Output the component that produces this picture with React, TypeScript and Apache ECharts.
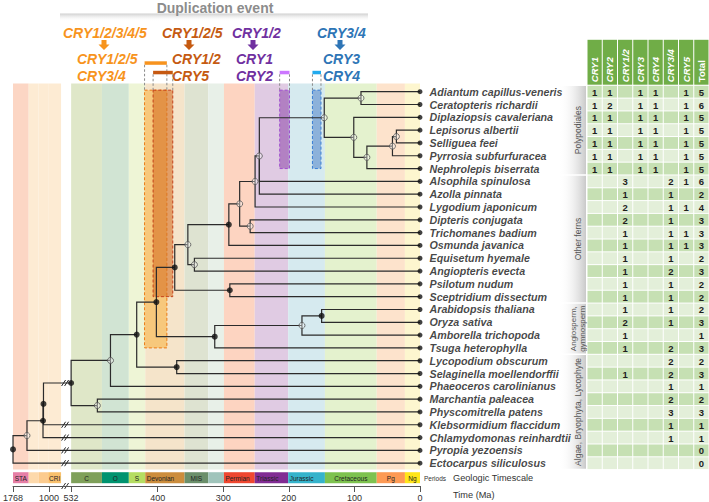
import React, { useEffect, useRef } from 'react';
import * as echarts from 'echarts';

const FONT = '"Liberation Sans", Arial, Helvetica, sans-serif';

// ---------------- data ----------------
const species = [
  'Adiantum capillus-veneris', 'Ceratopteris richardii', 'Diplaziopsis cavaleriana', 'Lepisorus albertii',
  'Selliguea feei', 'Pyrrosia subfurfuracea', 'Nephrolepis biserrata', 'Alsophila spinulosa', 'Azolla pinnata',
  'Lygodium japonicum', 'Dipteris conjugata', 'Trichomanes badium', 'Osmunda javanica', 'Equisetum hyemale',
  'Angiopteris evecta', 'Psilotum nudum', 'Sceptridium dissectum', 'Arabidopsis thaliana', 'Oryza sativa',
  'Amborella trichopoda', 'Tsuga heterophylla', 'Lycopodium obscurum', 'Selaginella moellendorffii',
  'Phaeoceros carolinianus', 'Marchantia paleacea', 'Physcomitrella patens', 'Klebsormidium flaccidum',
  'Chlamydomonas reinhardtii', 'Pyropia yezoensis', 'Ectocarpus siliculosus',
];

// internal nodes: id, age (Ma), children (tip row index or node id), supported (filled)
const treeNodes: [string, number, (number | string)[], boolean][] = [
  ['a', 90, [0, 1], false],
  ['f', 36, [3, 4], false],
  ['e', 42, ['f', 5], false],
  ['d', 81, ['e', 6], false],
  ['c', 101, [2, 'd'], false],
  ['b', 146, ['a', 'c'], false],
  ['g', 245, ['b', 7, 8], false],
  ['h', 251.5, ['g', 9], false],
  ['j', 259, [10, 11], false],
  ['i', 275, ['h', 'j'], false],
  ['k', 291.5, ['i', 12], true],
  ['m', 344, [13, 14], false],
  ['l', 354, ['k', 'm'], false],
  ['o', 290, [15, 16], true],
  ['n', 374, ['l', 'o'], true],
  ['s', 150, [17, 18], true],
  ['r', 180, ['s', 19], false],
  ['q', 313, ['r', 20], true],
  ['p', 402, ['n', 'q'], true],
  ['u', 371, [21, 22], true],
  ['t', 432, ['p', 'u'], true],
  ['v', 472, ['t', 23], false],
  ['x', 492, [24, 25], false],
  ['w', 532, ['v', 'x'], true],
  ['y1', 1120, ['w', 26], true],
  ['y2', 1130, ['y1', 27], true],
  ['z', 1471, ['y2', 28], false],
  ['root', 1768, ['z', 29], true],
];

const timeTicksMa = [1768, 1000, 532, 400, 300, 200, 100, 0];
const axisBreakMa = 532;
const breakMarkMa = 650;

const periodNames = ['STA', '', '', 'CRI', 'C', 'O', 'S', 'Devonian', 'MIS', '', 'Permian', 'Triassic', 'Jurassic', 'Cretaceous', 'Pg', 'Ng'];
const periodStartMa = [1768, 1435, 1225, 1020, 532, 485, 444, 419, 359, 323, 299, 252, 201, 145, 66, 23];
const periodEndMa = [1435, 1225, 1020, 746, 485, 444, 419, 359, 323, 299, 252, 201, 145, 66, 23, 0];
const periodBarColors = ['#e67fa6', '#fdd9ab', '#fccb8e', '#f9c06c', '#7fa05a', '#00936f', '#b5dd62', '#cc8d3d', '#6b8f6b', '#a0c4bb', '#ef4730', '#812c93', '#35b3cb', '#7dc24f', '#fd9a55', '#ffe61a'];
const periodBandColors = ['#fcd6c4', '#fdebd3', '#fdebd3', '#fdebd3', '#dfe7c8', '#d1e4d3', '#eef5d6', '#f5e4ca', '#dee3d1', '#e8f0e8', '#fdd4c1', '#e0cbe3', '#d6eaef', '#e4f2ce', '#fde3cc', '#fdf6cf'];
const leftAlignedPeriods = ['Devonian', 'Permian', 'Triassic', 'Jurassic'];

const dupSource = ['CRY1/2/3/4/5', 'CRY1/2/5', 'CRY1/2', 'CRY3/4'];
const dupProducts = [['CRY1/2/5', 'CRY3/4'], ['CRY1/2', 'CRY5'], ['CRY1', 'CRY2'], ['CRY3', 'CRY4']];
const dupOlderMa = [420, 407, 214, 164];
const dupYoungerMa = [386, 377, 199, 151];
const dupLastRow = [20, 16, 6, 6];

const cryColumns = ['CRY1', 'CRY2', 'CRY1/2', 'CRY3', 'CRY4', 'CRY3/4', 'CRY5', 'Total'];
const N = null;
const cry1Counts = [1, 1, 1, 1, 1, 1, 1, N, N, N, N, N, N, N, N, N, N, N, N, N, N, N, N, N, N, N, N, N, N, N];
const cry2Counts = [1, 2, 1, 1, 1, 1, 1, N, N, N, N, N, N, N, N, N, N, N, N, N, N, N, N, N, N, N, N, N, N, N];
const cry12Counts = [N, N, N, N, N, N, N, 3, 1, 2, 2, 1, 1, 1, 1, 1, 1, 1, 2, 1, 1, N, 1, N, N, N, N, N, N, N];
const cry3Counts = [1, 1, 1, 1, 1, 1, 1, N, N, N, N, N, N, N, N, N, N, N, N, N, N, N, N, N, N, N, N, N, N, N];
const cry4Counts = [1, 1, 1, 1, 1, 1, 1, N, N, N, N, N, N, N, N, N, N, N, N, N, N, N, N, N, N, N, N, N, N, N];
const cry34Counts = [N, N, N, N, N, N, N, 2, 1, 1, 1, 1, 1, 1, 2, 1, 1, 1, 1, N, 2, 2, 2, 1, 2, 3, 1, 1, N, N];
const cry5Counts = [1, 1, 1, 1, 1, 1, 1, 1, N, 1, N, 1, 1, N, N, N, N, N, N, N, N, N, N, N, N, N, N, N, N, N];
const totalCounts = [5, 6, 5, 5, 5, 5, 5, 6, 2, 4, 3, 3, 3, 2, 3, 2, 2, 2, 3, 1, 3, 2, 3, 1, 2, 3, 1, 1, 0, 0];

const groupNames = ['Polypodiales', 'Other ferns', 'Angiosperm,\ngymnosperm', 'Algae, Bryophyta, Lycophyte'];
const groupFirstRow = [0, 7, 17, 21];
const groupLastRow = [6, 16, 20, 29];

// ---------------- helpers ----------------
const K = 0.0717;
const toAxis = (t: number) => (t <= axisBreakMa ? t : axisBreakMa + (t - axisBreakMa) * K);
const tickU = timeTicksMa.map(toAxis);

const nodeMap: Record<string, { age: number; ch: (number | string)[]; sup: boolean }> = {};
treeNodes.forEach(([id, age, ch, sup]) => (nodeMap[id] = { age, ch, sup }));
const yCache: Record<string, number> = {};
function yOf(ref: number | string): number {
  if (typeof ref === 'number') return ref;
  if (yCache[ref] != null) return yCache[ref];
  const ys = nodeMap[ref].ch.map(yOf);
  const y = (Math.min(...ys) + Math.max(...ys)) / 2;
  yCache[ref] = y;
  return y;
}
const ageOf = (ref: number | string) => (typeof ref === 'number' ? 0 : nodeMap[ref].age);

const edgeData: number[][] = [];
treeNodes.forEach(([id, age, ch]) => {
  ch.forEach((c) => {
    const ca = ageOf(c);
    const crosses = age > breakMarkMa && ca < breakMarkMa ? 1 : 0;
    edgeData.push([toAxis(age), yOf(id), toAxis(ca), yOf(c), crosses]);
  });
});

const tableCols = [cry1Counts, cry2Counts, cry12Counts, cry3Counts, cry4Counts, cry34Counts, cry5Counts, totalCounts];

function buildOption(): any {
  const colorsDup = ['#f7941d', '#c55a11', '#7030a0', '#2e75b6'];
  const barColorsDup = ['#f7931e', '#c65911', '#cc77ff', '#22aaee'];
  const boxFill = ['rgba(248,176,60,0.55)', 'rgba(214,112,36,0.6)', 'rgba(140,70,170,0.55)', 'rgba(80,130,200,0.55)'];
  const boxStroke = ['#ec7a14', '#c4401a', '#a050d0', '#3a7fd5'];
  const sourceX = [63, 162, 232, 317];
  const arrowX = [104, 189, 253, 340];
  const productX = [77, 172, 236, 323];

  const graphics: any[] = [
    {
      type: 'rect', shape: { x: 60, y: 13.5, width: 308, height: 8 }, silent: true,
      style: { fill: { type: 'linear', x: 0, y: 0, x2: 0, y2: 1, colorStops: [{ offset: 0, color: '#cfcfcf' }, { offset: 1, color: 'rgba(255,255,255,0)' }] } },
    },
    { type: 'text', x: 215, y: 7.5, style: { text: 'Duplication event', font: `bold 14px ${FONT}`, fill: '#8c8c8c', align: 'center', verticalAlign: 'middle' } },
    { type: 'text', x: 424, y: 478, style: { text: 'Periods', font: `6.5px ${FONT}`, fill: '#333', align: 'left', verticalAlign: 'middle' } },
    { type: 'text', x: 453, y: 478, style: { text: 'Geologic Timescale', font: `9.2px ${FONT}`, fill: '#333', align: 'left', verticalAlign: 'middle' } },
    { type: 'text', x: 453, y: 495, style: { text: 'Time (Ma)', font: `9.2px ${FONT}`, fill: '#333', align: 'left', verticalAlign: 'middle' } },
  ];
  dupSource.forEach((src, i) => {
    const f = `italic bold 14px ${FONT}`;
    graphics.push({ type: 'text', x: sourceX[i], y: 33, style: { text: src, font: f, fill: colorsDup[i], align: 'left', verticalAlign: 'middle' } });
    graphics.push({ type: 'text', x: productX[i], y: 59, style: { text: dupProducts[i][0], font: f, fill: colorsDup[i], align: 'left', verticalAlign: 'middle' } });
    graphics.push({ type: 'text', x: productX[i], y: 76, style: { text: dupProducts[i][1], font: f, fill: colorsDup[i], align: 'left', verticalAlign: 'middle' } });
    const ax = arrowX[i];
    graphics.push({
      type: 'polygon', silent: true,
      shape: { points: [[ax - 2.5, 40], [ax + 2.5, 40], [ax + 2.5, 44.5], [ax + 5.5, 44.5], [ax, 50], [ax - 5.5, 44.5], [ax - 2.5, 44.5]] },
      style: { fill: colorsDup[i] },
    });
  });

  const series: any[] = [];

  // background bands
  series.push({
    type: 'custom', xAxisIndex: 0, yAxisIndex: 0, clip: false, silent: true, z: 1,
    data: periodStartMa.map((s, i) => [toAxis(s), 0, toAxis(periodEndMa[i]), i]),
    renderItem: (params: any, api: any) => {
      const a = api.coord([api.value(0), -0.65]);
      const b = api.coord([api.value(2), 29.5]);
      const i = api.value(3);
      return { type: 'rect', shape: { x: Math.min(a[0], b[0]), y: a[1], width: Math.abs(b[0] - a[0]), height: b[1] - a[1] }, style: { fill: periodBandColors[i] } };
    },
  });

  // period bar
  series.push({
    type: 'custom', xAxisIndex: 0, yAxisIndex: 0, clip: false, silent: true, z: 2,
    data: periodStartMa.map((s, i) => [toAxis(s), 0, toAxis(periodEndMa[i]), i]),
    renderItem: (params: any, api: any) => {
      const cs = params.coordSys;
      const a = api.coord([api.value(0), 0]);
      const b = api.coord([api.value(2), 0]);
      const i = api.value(3);
      const x0 = Math.min(a[0], b[0]);
      const w = Math.abs(b[0] - a[0]);
      const y0 = cs.y + cs.height + 2.6;
      const h = 11;
      const name = periodNames[i];
      const left = leftAlignedPeriods.indexOf(name) >= 0;
      const children: any[] = [{ type: 'rect', shape: { x: x0, y: y0, width: w, height: h }, style: { fill: periodBarColors[i] } }];
      if (name) {
        children.push({ type: 'text', x: left ? x0 + 1.5 : x0 + w / 2, y: y0 + h / 2 + 0.5, style: { text: name, font: `6.5px ${FONT}`, fill: '#222', align: left ? 'left' : 'center', verticalAlign: 'middle' } });
      }
      return { type: 'group', children };
    },
  });

  // axis break on time axis
  series.push({
    type: 'custom', xAxisIndex: 0, yAxisIndex: 0, clip: false, silent: true, z: 6,
    data: [[toAxis(breakMarkMa), 0]],
    renderItem: (params: any, api: any) => {
      const cs = params.coordSys;
      const p = api.coord([api.value(0), 0]);
      const y = cs.y + cs.height + 16.4;
      return {
        type: 'group', children: [
          { type: 'rect', shape: { x: p[0] - 3, y: y - 1.5, width: 6, height: 3 }, style: { fill: '#fff' } },
          { type: 'line', shape: { x1: p[0] - 4, y1: y + 3, x2: p[0], y2: y - 3 }, style: { stroke: '#333', lineWidth: 1 } },
          { type: 'line', shape: { x1: p[0] - 1, y1: y + 3, x2: p[0] + 3, y2: y - 3 }, style: { stroke: '#333', lineWidth: 1 } },
        ],
      };
    },
  });

  // duplication boxes
  series.push({
    type: 'custom', xAxisIndex: 0, yAxisIndex: 0, clip: false, silent: true, z: 3,
    data: dupOlderMa.map((o, i) => [toAxis(o), dupLastRow[i], toAxis(dupYoungerMa[i]), i]),
    renderItem: (params: any, api: any) => {
      const cs = params.coordSys;
      const i = api.value(3);
      const a = api.coord([api.value(0), -0.12]);
      const b = api.coord([api.value(2), api.value(1)]);
      const x0 = a[0], x1 = b[0];
      const barY = i === 0 ? cs.y - 24 : cs.y - 14.5;
      const children: any[] = [
        { type: 'rect', shape: { x: x0, y: barY, width: x1 - x0, height: 3.5 }, style: { fill: barColorsDup[i] } },
        { type: 'line', shape: { x1: x0, y1: barY + 3.5, x2: x0, y2: a[1] }, style: { stroke: '#8a8a8a', lineWidth: 1, lineDash: [2.5, 2] } },
        { type: 'line', shape: { x1: x1, y1: barY + 3.5, x2: x1, y2: a[1] }, style: { stroke: '#8a8a8a', lineWidth: 1, lineDash: [2.5, 2] } },
        { type: 'rect', shape: { x: x0, y: a[1], width: x1 - x0, height: b[1] - a[1] }, style: { fill: boxFill[i], stroke: boxStroke[i], lineWidth: 1, lineDash: [3, 2] } },
      ];
      return { type: 'group', children };
    },
  });

  // tree edges
  series.push({
    type: 'custom', xAxisIndex: 0, yAxisIndex: 0, clip: false, silent: true, z: 5,
    data: edgeData,
    renderItem: (params: any, api: any) => {
      const p0 = api.coord([api.value(0), api.value(1)]);
      const p1 = api.coord([api.value(0), api.value(3)]);
      const p2 = api.coord([api.value(2), api.value(3)]);
      const children: any[] = [
        { type: 'polyline', shape: { points: [p0, p1, p2] }, style: { stroke: '#2b2b2b', lineWidth: 1.2, fill: 'none' } },
      ];
      if (api.value(4)) {
        const b = api.coord([toAxis(breakMarkMa), api.value(3)]);
        children.push({ type: 'line', shape: { x1: b[0] - 4, y1: b[1] + 3, x2: b[0], y2: b[1] - 3 }, style: { stroke: '#222', lineWidth: 1 } });
        children.push({ type: 'line', shape: { x1: b[0] - 1, y1: b[1] + 3, x2: b[0] + 3, y2: b[1] - 3 }, style: { stroke: '#222', lineWidth: 1 } });
      }
      return { type: 'group', children };
    },
  });

  // internal nodes
  series.push({
    type: 'scatter', xAxisIndex: 0, yAxisIndex: 0, clip: false, silent: true, z: 7,
    symbol: 'circle', symbolSize: 6,
    data: treeNodes.map(([id, age, , sup]) => ({
      value: [toAxis(age), yOf(id)],
      itemStyle: sup ? { color: '#111', borderWidth: 0 } : { color: 'rgba(255,255,255,0.45)', borderColor: '#555', borderWidth: 1 },
    })),
  });

  // tips + labels
  series.push({
    type: 'scatter', xAxisIndex: 0, yAxisIndex: 0, clip: false, silent: true, z: 7,
    symbol: 'circle', symbolSize: 5, itemStyle: { color: '#111' },
    data: species.map((s, i) => [0, i]),
    label: {
      show: true, position: 'right', distance: 7,
      formatter: (p: any) => species[p.dataIndex],
      fontFamily: FONT, fontStyle: 'italic', fontWeight: 'bold', fontSize: 10.7, color: '#151515',
    },
  });

  // group bars (table grid)
  series.push({
    type: 'custom', xAxisIndex: 1, yAxisIndex: 1, clip: false, silent: true, z: 2,
    data: groupFirstRow.map((f, i) => [i, f, groupLastRow[i]]),
    renderItem: (params: any, api: any) => {
      const cs = params.coordSys;
      const i = api.value(0);
      const a = api.coord([0, api.value(1) - 0.5]);
      const b = api.coord([0, api.value(2) + 0.5]);
      const top = a[1] + 0.8, bot = b[1] - 0.8;
      const x0 = cs.x - 28, x1 = cs.x - 1;
      return {
        type: 'group', children: [
          { type: 'rect', shape: { x: x0, y: top, width: x1 - x0, height: bot - top }, style: { fill: { type: 'linear', x: 0, y: 0, x2: 1, y2: 0, colorStops: [{ offset: 0, color: 'rgba(255,255,255,0)' }, { offset: 1, color: '#c9c9c9' }] } } },
          { type: 'text', x: cs.x - 9, y: (top + bot) / 2, rotation: Math.PI / 2, style: { text: groupNames[i], font: `${i === 2 ? 8 : 8.5}px ${FONT}`, fill: '#555', align: 'center', verticalAlign: 'middle', lineHeight: 9 } },
        ],
      };
    },
  });

  // table header
  series.push({
    type: 'custom', xAxisIndex: 1, yAxisIndex: 1, clip: false, silent: true, z: 3,
    data: cryColumns.map((c, i) => [i, 0]),
    renderItem: (params: any, api: any) => {
      const cs = params.coordSys;
      const c = api.value(0);
      const a = api.coord([c, 0]);
      const b = api.coord([c + 1, 0]);
      const top = cs.y - 45.5, bot = cs.y - 0.6;
      const name = cryColumns[c];
      return {
        type: 'group', children: [
          { type: 'rect', shape: { x: a[0] + 0.5, y: top, width: b[0] - a[0] - 1, height: bot - top }, style: { fill: '#70ad47' } },
          { type: 'text', x: (a[0] + b[0]) / 2, y: bot - 2.5, rotation: Math.PI / 2, style: { text: name, font: `${name === 'Total' ? '' : 'italic '}bold 9.5px ${FONT}`, fill: '#fff', align: 'left', verticalAlign: 'middle' } },
        ],
      };
    },
  });

  // table cells
  const cellData: number[][] = [];
  tableCols.forEach((col, c) => col.forEach((v, r) => cellData.push([c, r, v == null ? -1 : v])));
  series.push({
    type: 'custom', xAxisIndex: 1, yAxisIndex: 1, clip: false, silent: true, z: 3,
    data: cellData,
    renderItem: (params: any, api: any) => {
      const c = api.value(0), r = api.value(1), v = api.value(2);
      const a = api.coord([c, r - 0.5]);
      const b = api.coord([c + 1, r + 0.5]);
      const children: any[] = [
        { type: 'rect', shape: { x: a[0] + 0.5, y: a[1] + 0.5, width: b[0] - a[0] - 1, height: b[1] - a[1] - 1 }, style: { fill: r % 2 === 0 ? '#c6e0b3' : '#e3efd9' } },
      ];
      if (v >= 0) {
        children.push({ type: 'text', x: (a[0] + b[0]) / 2, y: (a[1] + b[1]) / 2 + 0.5, style: { text: String(v), font: `bold 9.5px ${FONT}`, fill: '#1e1e1e', align: 'center', verticalAlign: 'middle' } });
      }
      return { type: 'group', children };
    },
  });

  return {
    animation: false,
    backgroundColor: '#ffffff',
    textStyle: { fontFamily: FONT },
    grid: [
      { left: 4, right: 289, top: 85.3, bottom: 32.4, containLabel: false },
      { left: 587, right: 0, top: 85.3, bottom: 32.4, containLabel: false },
    ],
    xAxis: [
      {
        gridIndex: 0, type: 'value', inverse: true, min: 0, max: toAxis(1768), position: 'bottom', offset: 16.4,
        axisLine: { show: true, onZero: false, lineStyle: { color: '#555', width: 1 } },
        axisTick: { show: true, customValues: tickU, length: 6, lineStyle: { color: '#555' } },
        axisLabel: {
          show: true, customValues: tickU, fontSize: 9, color: '#333', margin: 7, fontFamily: FONT,
          formatter: (v: number) => {
            const k = tickU.findIndex((t) => Math.abs(t - v) < 0.01);
            return k >= 0 ? String(timeTicksMa[k]) : '';
          },
        },
        splitLine: { show: false },
        z: 8,
      },
      { gridIndex: 1, type: 'value', min: 0, max: 8, show: false },
    ],
    yAxis: [
      { gridIndex: 0, type: 'value', inverse: true, min: -0.5, max: 29.5, show: false },
      { gridIndex: 1, type: 'value', inverse: true, min: -0.5, max: 29.5, show: false },
    ],
    graphic: graphics,
    series,
  };
}

export default function App() {
  const ref = useRef<HTMLDivElement>(null);
  useEffect(() => {
    const chart = echarts.init(ref.current as HTMLDivElement, null, { renderer: 'svg' });
    chart.setOption(buildOption());
    return () => chart.dispose();
  }, []);
  return <div ref={ref} style={{ position: 'absolute', left: 0, top: 0, width: 709, height: 502 }} />;
}
